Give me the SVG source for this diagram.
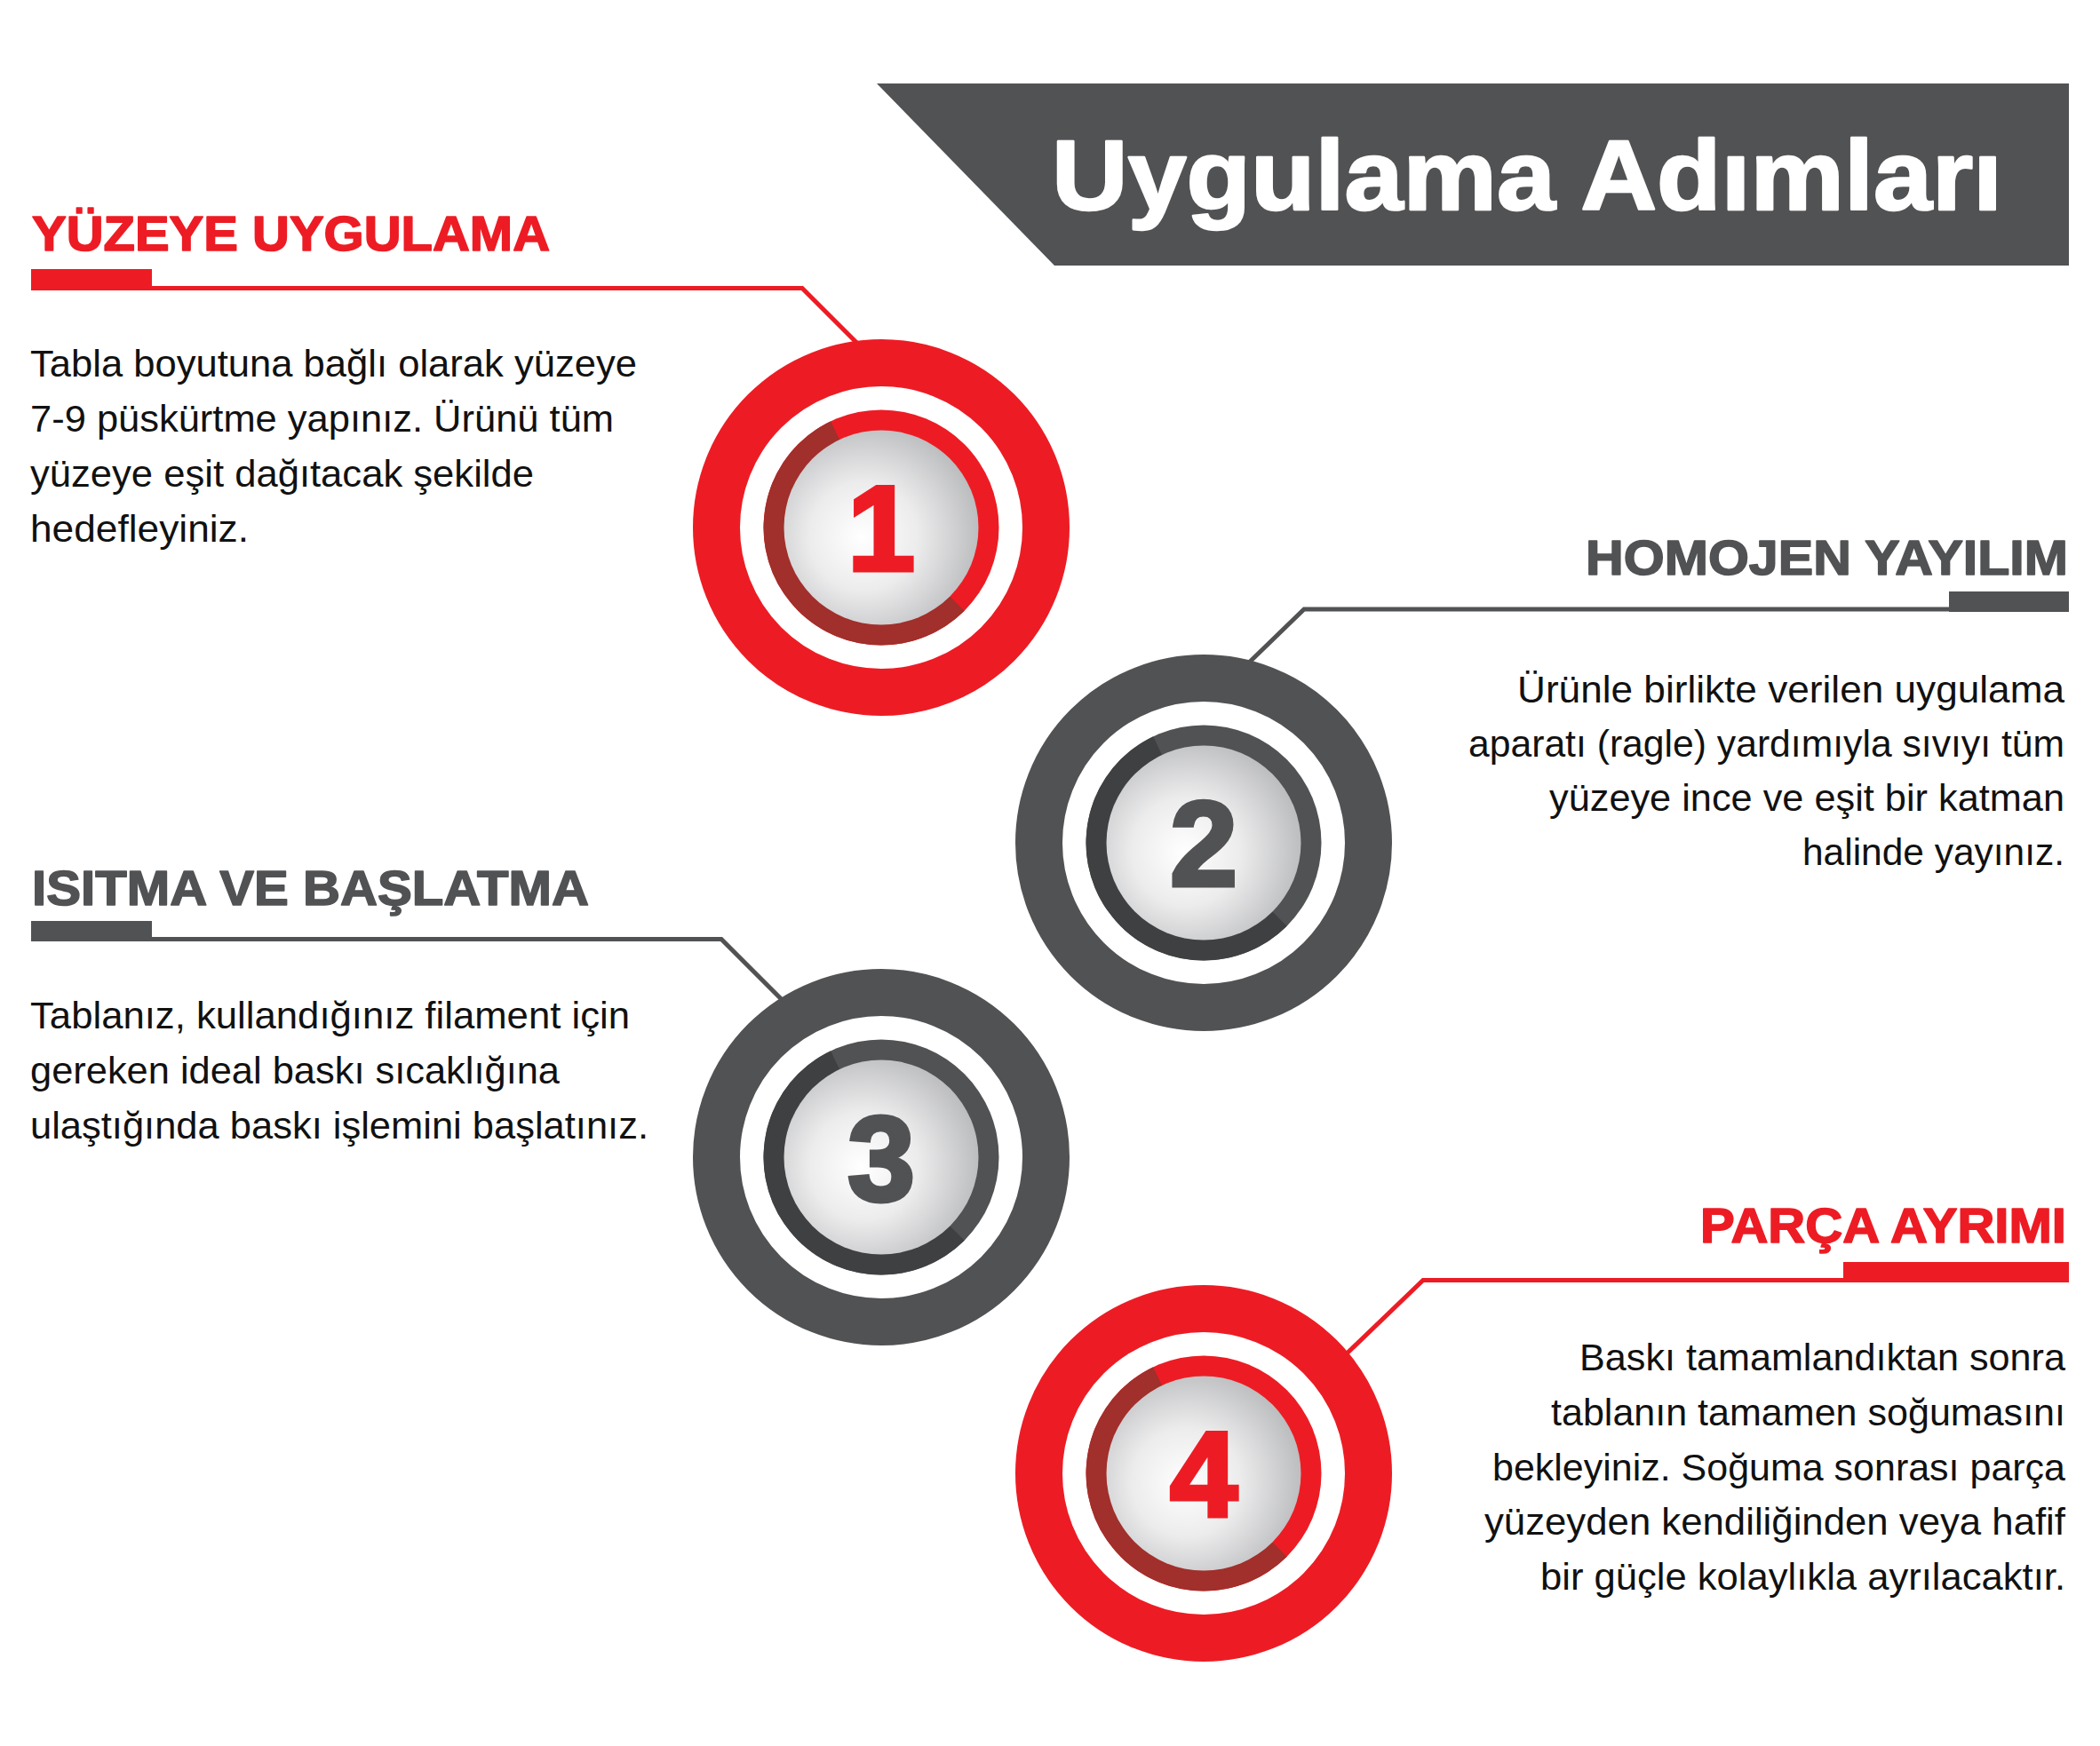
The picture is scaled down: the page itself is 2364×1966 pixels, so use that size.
<svg xmlns="http://www.w3.org/2000/svg" width="2364" height="1966" viewBox="0 0 2364 1966">
  <defs>
    <radialGradient id="disc" cx="0.42" cy="0.54" r="0.62" fx="0.4" fy="0.55">
      <stop offset="0" stop-color="#ffffff"/>
      <stop offset="0.45" stop-color="#ececed"/>
      <stop offset="1" stop-color="#b7b8ba"/>
    </radialGradient>
    <style>
      .red-f{fill:#ed1c24}
      .gray-f{fill:#515254}
      .ring-red{fill:none;stroke:#ed1c24;stroke-width:53}
      .ring-gray{fill:none;stroke:#515254;stroke-width:53}
      .arc-red{fill:#a12f2b}
      .arc-gray{fill:#3f4042}
      .conn-red{fill:none;stroke:#ed1c24;stroke-width:5}
      .conn-gray{fill:none;stroke:#515254;stroke-width:5}
      .head{font-family:"Liberation Sans",Arial,sans-serif;font-weight:bold;font-size:55px;stroke-width:1.6px;stroke-linejoin:round}
      .head.red-f{stroke:#ed1c24}
      .head.gray-f{stroke:#515254}
      .body{font-family:"Liberation Sans",Arial,sans-serif;font-size:43px;fill:#111111}
      .num{font-family:"Liberation Sans",Arial,sans-serif;font-weight:bold;font-size:136px;text-anchor:middle;stroke-width:5px;stroke-linejoin:miter}
      .num.red-f{stroke:#ed1c24}
      .num.gray-f{stroke:#515254}
      .title{font-family:"Liberation Sans",Arial,sans-serif;font-weight:bold;font-size:112px;fill:#ffffff;stroke:#ffffff;stroke-width:2.5px;stroke-linejoin:round}
    </style>
  </defs>
  <rect width="2364" height="1966" fill="#ffffff"/>

  <!-- title banner -->
  <g id="title">
    <polygon points="987,94 2329,94 2329,299 1187,299" fill="#515254"/>
    <text class="title" x="1184" y="236" textLength="1070" lengthAdjust="spacingAndGlyphs">Uygulama Adımları</text>
  </g>

  <!-- connectors -->
  <g id="connectors">
    <polyline class="conn-red" points="35,324.5 903,324.5 968,389.5"/>
    <polyline class="conn-gray" points="2329,686 1468,686 1404,748"/>
    <polyline class="conn-gray" points="35,1057.5 812,1057.5 882,1127.5"/>
    <polyline class="conn-red" points="2329,1441.5 1602,1441.5 1512,1528"/>
  </g>

  <!-- step 1 -->
  <g id="step1">
    <text class="head red-f" x="36" y="282" textLength="583" lengthAdjust="spacingAndGlyphs">YÜZEYE UYGULAMA</text>
    <rect class="red-f" x="35" y="303" width="136" height="24"/>
    <text class="body" x="34" y="424" textLength="683" lengthAdjust="spacingAndGlyphs">Tabla boyutuna bağlı olarak yüzeye</text>
    <text class="body" x="34" y="486" textLength="657" lengthAdjust="spacingAndGlyphs">7-9 püskürtme yapınız. Ürünü tüm</text>
    <text class="body" x="34" y="548" textLength="567" lengthAdjust="spacingAndGlyphs">yüzeye eşit dağıtacak şekilde</text>
    <text class="body" x="34" y="610" textLength="246" lengthAdjust="spacingAndGlyphs">hedefleyiniz.</text>
    <g transform="translate(992,594)">
      <circle class="ring-red" r="185.5"/>
      <circle class="red-f" r="132.5"/>
      <path class="arc-red" d="M0,0 L93.7,93.7 A132.5,132.5 0 1 1 -56.8,-119.7 Z"/>
      <circle r="109.5" fill="url(#disc)"/>
      <text class="num red-f" x="0" y="48">1</text>
    </g>
  </g>

  <!-- step 2 -->
  <g id="step2">
    <text class="head gray-f" x="1785" y="647" textLength="543" lengthAdjust="spacingAndGlyphs">HOMOJEN YAYILIM</text>
    <rect class="gray-f" x="2194" y="666" width="135" height="23"/>
    <text class="body" x="1708" y="791" textLength="616" lengthAdjust="spacingAndGlyphs">Ürünle birlikte verilen uygulama</text>
    <text class="body" x="1653" y="852" textLength="671" lengthAdjust="spacingAndGlyphs">aparatı (ragle) yardımıyla sıvıyı tüm</text>
    <text class="body" x="1744" y="913" textLength="580" lengthAdjust="spacingAndGlyphs">yüzeye ince ve eşit bir katman</text>
    <text class="body" x="2029" y="974" textLength="295" lengthAdjust="spacingAndGlyphs">halinde yayınız.</text>
    <g transform="translate(1355,949)">
      <circle class="ring-gray" r="185.5"/>
      <circle class="gray-f" r="132.5"/>
      <path class="arc-gray" d="M0,0 L93.7,93.7 A132.5,132.5 0 1 1 -56.8,-119.7 Z"/>
      <circle r="109.5" fill="url(#disc)"/>
      <text class="num gray-f" x="0" y="48">2</text>
    </g>
  </g>

  <!-- step 3 -->
  <g id="step3">
    <text class="head gray-f" x="36" y="1019" textLength="627" lengthAdjust="spacingAndGlyphs">ISITMA VE BAŞLATMA</text>
    <rect class="gray-f" x="35" y="1037" width="136" height="23"/>
    <text class="body" x="34" y="1158" textLength="675" lengthAdjust="spacingAndGlyphs">Tablanız, kullandığınız filament için</text>
    <text class="body" x="34" y="1220" textLength="596" lengthAdjust="spacingAndGlyphs">gereken ideal baskı sıcaklığına</text>
    <text class="body" x="34" y="1282" textLength="696" lengthAdjust="spacingAndGlyphs">ulaştığında baskı işlemini başlatınız.</text>
    <g transform="translate(992,1303)">
      <circle class="ring-gray" r="185.5"/>
      <circle class="gray-f" r="132.5"/>
      <path class="arc-gray" d="M0,0 L93.7,93.7 A132.5,132.5 0 1 1 -56.8,-119.7 Z"/>
      <circle r="109.5" fill="url(#disc)"/>
      <text class="num gray-f" x="0" y="48">3</text>
    </g>
  </g>

  <!-- step 4 -->
  <g id="step4">
    <text class="head red-f" x="1914" y="1399" textLength="412" lengthAdjust="spacingAndGlyphs">PARÇA AYRIMI</text>
    <rect class="red-f" x="2075" y="1421" width="254" height="23"/>
    <text class="body" x="1778" y="1543" textLength="547" lengthAdjust="spacingAndGlyphs">Baskı tamamlandıktan sonra</text>
    <text class="body" x="1746" y="1605" textLength="579" lengthAdjust="spacingAndGlyphs">tablanın tamamen soğumasını</text>
    <text class="body" x="1680" y="1667" textLength="645" lengthAdjust="spacingAndGlyphs">bekleyiniz. Soğuma sonrası parça</text>
    <text class="body" x="1671" y="1728" textLength="654" lengthAdjust="spacingAndGlyphs">yüzeyden kendiliğinden veya hafif</text>
    <text class="body" x="1734" y="1790" textLength="591" lengthAdjust="spacingAndGlyphs">bir güçle kolaylıkla ayrılacaktır.</text>
    <g transform="translate(1355,1659)">
      <circle class="ring-red" r="185.5"/>
      <circle class="red-f" r="132.5"/>
      <path class="arc-red" d="M0,0 L93.7,93.7 A132.5,132.5 0 1 1 -56.8,-119.7 Z"/>
      <circle r="109.5" fill="url(#disc)"/>
      <text class="num red-f" x="0" y="48">4</text>
    </g>
  </g>
</svg>
